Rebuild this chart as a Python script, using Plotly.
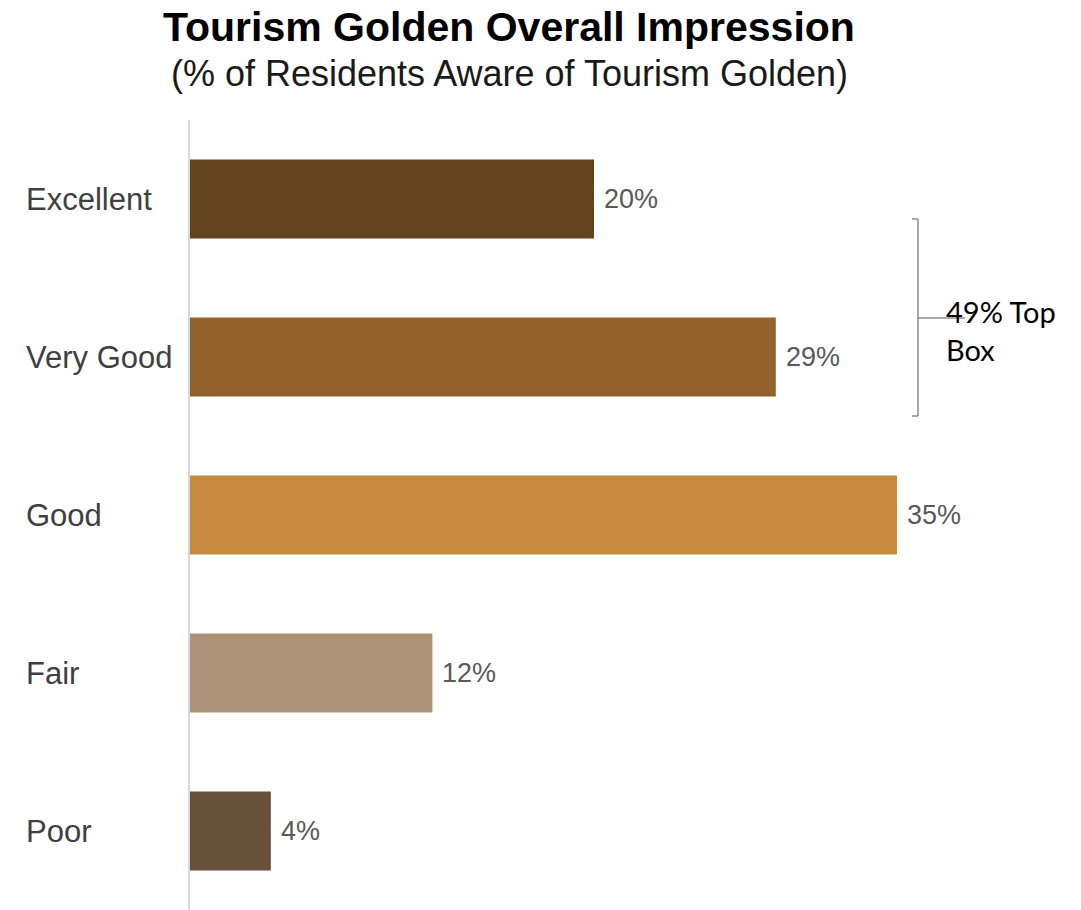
import plotly.graph_objects as go

categories = ["Excellent", "Very Good", "Good", "Fair", "Poor"]
values = [20, 29, 35, 12, 4]
colors = ["#62431D", "#93622C", "#C68940", "#AD9377", "#66503A"]
title_text = "Tourism Golden Overall Impression"
subtitle_text = "(% of Residents Aware of Tourism Golden)"
bracket_text = "49% Top<br>Box"

W, H = 1081, 910
ML, MR, MT, MB = 190, 11, 120, 0
PW = W - ML - MR
PH = H - MT - MB


def px_x(p):
    return (p - ML) / PW


def px_y(p):
    return 1 - (p - MT) / PH


fig = go.Figure()
fig.add_trace(go.Bar(
    x=values, y=categories, orientation="h",
    marker=dict(color=colors, line=dict(width=0)),
    width=0.5, hoverinfo="skip", showlegend=False,
))

# value labels
for c, v in zip(categories, values):
    fig.add_annotation(x=v, y=c, xref="x", yref="y", text=f"{v}%",
                       showarrow=False, xanchor="left", yanchor="middle", xshift=8,
                       font=dict(family="Liberation Sans, Arial", size=27, color="#595959"))

# category labels (left-aligned)
for c in categories:
    fig.add_annotation(x=px_x(24), y=c, xref="paper", yref="y", text=c,
                       showarrow=False, xanchor="left", yanchor="middle",
                       font=dict(family="Liberation Sans, Arial", size=31, color="#404040"))

# title and subtitle
fig.add_annotation(x=px_x(509), y=px_y(27), xref="paper", yref="paper", text=f"<b>{title_text}</b>",
                   showarrow=False, xanchor="center", yanchor="middle",
                   font=dict(family="Liberation Sans, Arial", size=41, color="#000000"))
fig.add_annotation(x=px_x(509), y=px_y(74), xref="paper", yref="paper", text=subtitle_text,
                   showarrow=False, xanchor="center", yanchor="middle",
                   font=dict(family="Liberation Sans, Arial", size=36, color="#1a1a1a"))

# bracket
bc = "#8c8c8c"
x_v = px_x(918)
x_h = px_x(912)
y_top, y_bot, y_mid = px_y(219), px_y(416), px_y(318)
for (x0, y0, x1, y1) in [(x_v, y_top, x_v, y_bot), (x_h, y_top, x_v, y_top),
                         (x_h, y_bot, x_v, y_bot), (x_v, y_mid, px_x(965), y_mid)]:
    fig.add_shape(type="line", xref="paper", yref="paper", x0=x0, y0=y0, x1=x1, y1=y1,
                  line=dict(color=bc, width=1.5))

fig.add_annotation(x=px_x(944), y=px_y(330), xref="paper", yref="paper", text=bracket_text,
                   showarrow=False, xanchor="left", yanchor="middle", align="left",
                   font=dict(family="Lato", size=29, color="#000000"))

fig.update_layout(
    width=W, height=H,
    margin=dict(l=ML, r=MR, t=MT, b=MB, pad=0),
    paper_bgcolor="white", plot_bgcolor="white",
    xaxis=dict(range=[0, PW / 20.2], visible=False, fixedrange=True),
    yaxis=dict(categoryorder="array", categoryarray=categories, autorange="reversed",
               showticklabels=False, showgrid=False, zeroline=False,
               showline=True, linecolor="#d9d9d9", linewidth=1.5, ticks="", fixedrange=True),
    bargap=0.5,
)

fig.write_html("out.html", config={"displayModeBar": False},
               post_script="document.body.style.margin='0';")
